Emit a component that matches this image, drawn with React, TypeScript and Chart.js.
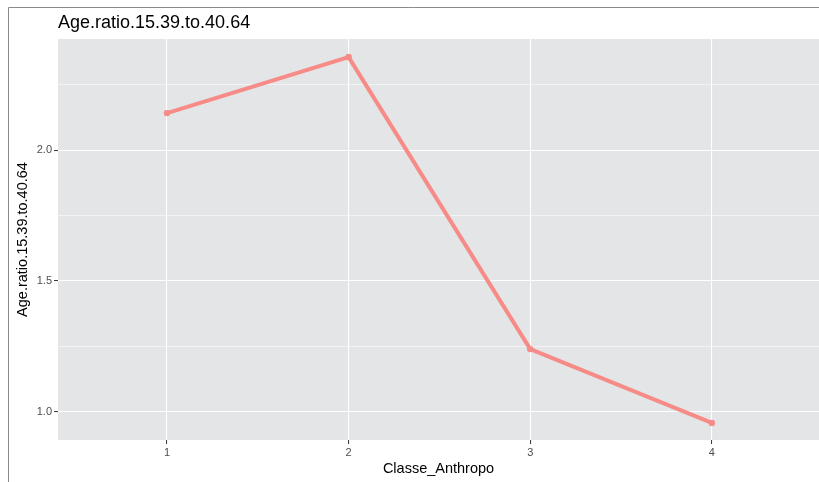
import React, { useEffect, useRef } from "react";
import { Chart, registerables } from "chart.js";

Chart.register(...registerables);

// ---- data ----
const categories = [1, 2, 3, 4];
const ageRatio = [2.141, 2.355, 1.24, 0.958];
const yMajorTicks = [1.0, 1.5, 2.0];
const yMinorTicks = [1.25, 1.75, 2.25];
const xTicks = [1, 2, 3, 4];
const chartTitle = "Age.ratio.15.39.to.40.64";
const xTitle = "Classe_Anthropo";
const yTitle = "Age.ratio.15.39.to.40.64";

const FONT = "'Liberation Sans', Arial, Helvetica, sans-serif";
const LINE_COLOR = "#F68B87";

const isMajor = (v: number) => yMajorTicks.some((m) => Math.abs(m - v) < 1e-6);

const decorPlugin = {
  id: "decor",
  beforeDraw(chart: any) {
    const { ctx, chartArea, width, height } = chart;
    ctx.save();
    ctx.fillStyle = "#FFFFFF";
    ctx.fillRect(0, 0, width, height);
    ctx.fillStyle = "#E4E5E7";
    ctx.fillRect(chartArea.left, chartArea.top, chartArea.right - chartArea.left, chartArea.bottom - chartArea.top);
    ctx.strokeStyle = "#8A8A8A";
    ctx.lineWidth = 1;
    ctx.beginPath();
    ctx.moveTo(8.5, height);
    ctx.lineTo(8.5, 7.5);
    ctx.lineTo(width, 7.5);
    ctx.stroke();
    ctx.restore();
  },
  afterDraw(chart: any) {
    const { ctx, chartArea } = chart;
    ctx.save();
    ctx.fillStyle = "#000000";
    ctx.font = `18px ${FONT}`;
    ctx.textAlign = "left";
    ctx.textBaseline = "alphabetic";
    ctx.fillText(chartTitle, 58, 28);

    ctx.font = `14.5px ${FONT}`;
    ctx.textAlign = "center";
    ctx.textBaseline = "alphabetic";
    ctx.fillText(xTitle, (chartArea.left + chartArea.right) / 2, 473);

    ctx.translate(27, (chartArea.top + chartArea.bottom) / 2);
    ctx.rotate(-Math.PI / 2);
    ctx.textBaseline = "alphabetic";
    ctx.fillText(yTitle, 0, 0);
    ctx.restore();
  },
};

export default function App() {
  const ref = useRef<HTMLCanvasElement | null>(null);

  useEffect(() => {
    if (!ref.current) return;
    const chart = new Chart(ref.current, {
      type: "line",
      data: {
        datasets: [
          {
            label: yTitle,
            data: categories.map((c, i) => ({ x: c, y: ageRatio[i] })),
            borderColor: LINE_COLOR,
            backgroundColor: LINE_COLOR,
            borderWidth: 4,
            pointRadius: 3.2,
            pointBorderWidth: 0,
            pointBackgroundColor: LINE_COLOR,
            tension: 0,
          },
        ],
      },
      options: {
        animation: false,
        responsive: false,
        maintainAspectRatio: false,
        layout: { autoPadding: false, padding: { top: 39, left: 0, right: 0, bottom: 0 } },
        plugins: {
          legend: { display: false },
          tooltip: { enabled: false },
          title: { display: false },
        },
        scales: {
          x: {
            type: "linear",
            min: 0.4,
            max: 4.59,
            afterFit: (s: any) => {
              s.height = 42;
              s.paddingLeft = 0;
              s.paddingRight = 0;
            },
            afterBuildTicks: (s: any) => {
              s.ticks = xTicks.map((v) => ({ value: v }));
            },
            ticks: {
              color: "#4D4D4D",
              font: { size: 11, family: FONT },
              padding: 2,
              maxRotation: 0,
              autoSkip: false,
              callback: (v: any) => String(v),
            },
            grid: {
              color: "#FFFFFF",
              lineWidth: 1.1,
              tickLength: 4,
              tickColor: "#333333",
              tickWidth: 1,
            },
            border: { display: false },
          },
          y: {
            type: "linear",
            min: 0.893,
            max: 2.424,
            afterFit: (s: any) => {
              s.width = 58;
              s.paddingTop = 0;
              s.paddingBottom = 0;
            },
            afterBuildTicks: (s: any) => {
              s.ticks = [...yMajorTicks, ...yMinorTicks]
                .sort((a, b) => a - b)
                .map((v) => ({ value: v }));
            },
            ticks: {
              color: "#4D4D4D",
              font: { size: 11, family: FONT },
              padding: 2,
              autoSkip: false,
              callback: (v: any) => (isMajor(Number(v)) ? Number(v).toFixed(1) : ""),
            },
            grid: {
              color: "#FFFFFF",
              lineWidth: (c: any) => (c.tick && isMajor(c.tick.value) ? 1.1 : 0.55),
              tickLength: 4,
              tickColor: (c: any) => (c.tick && isMajor(c.tick.value) ? "#333333" : "rgba(0,0,0,0)"),
              tickWidth: 1,
            },
            border: { display: false },
          },
        },
      },
      plugins: [decorPlugin],
    } as any);
    return () => chart.destroy();
  }, []);

  return (
    <div style={{ position: "fixed", left: 0, top: 0, width: 819, height: 482 }}>
      <canvas ref={ref} width={819} height={482} style={{ width: 819, height: 482, display: "block" }} />
    </div>
  );
}
